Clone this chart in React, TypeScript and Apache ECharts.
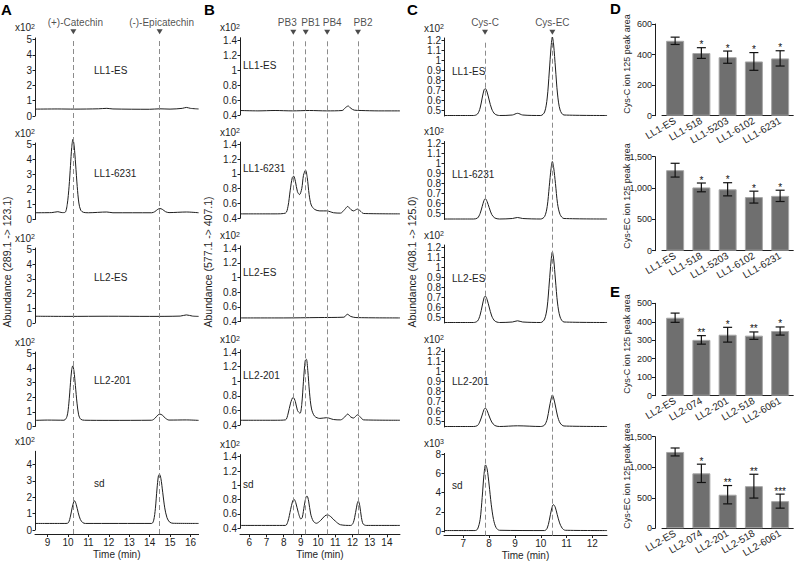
import React, { useEffect, useRef } from "react";
import * as echarts from "echarts";

const FONT = "'Liberation Sans', Arial, Helvetica, sans-serif";
const INK = "#1e1e1e";

// ---------------- Panel A : catechins, 289.1 -> 123.1 (x10^2) ----------------
const aTimeTicks = [9, 10, 11, 12, 13, 14, 15, 16];
const aRefTimes = [10.26, 14.49];
const aRefNames = ["(+)-Catechin", "(-)-Epicatechin"];
const aSampleNames = ["LL1-ES", "LL1-6231", "LL2-ES", "LL2-201", "sd"];
const aYTicks = [0, 1, 2, 3, 4, 5];
const aYTicksSd = [0, 1, 2, 3, 4];
const aLL1ES = [[8.38, 0.45], [9.5, 0.46], [10.3, 0.45], [11.5, 0.47], [11.9, 0.5], [12.2, 0.46], [14.0, 0.44], [14.5, 0.47], [15.0, 0.45], [15.6, 0.5], [15.8, 0.56], [16.0, 0.5], [16.4, 0.46]];
const aLL16231 = [[8.38, 0.45], [9.2, 0.46], [9.5, 0.52], [9.7, 0.46], [9.85, 0.47], [9.96, 1.0], [10.05, 2.2], [10.12, 3.6], [10.18, 4.8], [10.24, 5.35], [10.3, 4.9], [10.37, 3.7], [10.45, 2.2], [10.53, 1.1], [10.62, 0.62], [10.75, 0.48], [11.0, 0.45], [11.9, 0.5], [12.2, 0.45], [14.1, 0.45], [14.25, 0.52], [14.4, 0.68], [14.5, 0.73], [14.62, 0.68], [14.78, 0.52], [14.95, 0.46], [15.8, 0.5], [16.4, 0.45]];
const aLL2ES = [[8.38, 0.46], [10, 0.45], [12, 0.46], [14, 0.45], [15.5, 0.47], [15.8, 0.55], [16.1, 0.47], [16.4, 0.45]];
const aLL2201 = [[8.38, 0.42], [9.0, 0.44], [9.8, 0.43], [9.95, 0.7], [10.04, 1.6], [10.12, 3.0], [10.18, 3.9], [10.23, 4.15], [10.29, 3.8], [10.36, 2.8], [10.44, 1.6], [10.52, 0.8], [10.62, 0.5], [10.8, 0.43], [12, 0.42], [14.1, 0.43], [14.25, 0.55], [14.4, 0.78], [14.5, 0.85], [14.62, 0.78], [14.78, 0.56], [14.95, 0.44], [15.8, 0.45], [16.4, 0.42]];
const aSd = [[8.38, 0.4], [9.9, 0.4], [10.02, 0.45], [10.12, 0.85], [10.2, 1.35], [10.28, 1.72], [10.32, 1.78], [10.4, 1.55], [10.5, 1.05], [10.6, 0.65], [10.72, 0.45], [10.85, 0.4], [14.1, 0.4], [14.2, 0.6], [14.28, 1.3], [14.36, 2.5], [14.43, 3.3], [14.48, 3.4], [14.55, 3.15], [14.64, 2.3], [14.74, 1.35], [14.85, 0.75], [14.98, 0.48], [15.15, 0.41], [16.4, 0.4]];

// ---------------- Panel B : procyanidins, 577.1 -> 407.1 (x10^2) ----------------
const bTimeTicks = [6, 7, 8, 9, 10, 11, 12, 13, 14];
const bRefTimes = [8.56, 9.28, 10.53, 12.32];
const bRefNames = ["PB3", "PB1", "PB4", "PB2"];
const bSampleNames = ["LL1-ES", "LL1-6231", "LL2-ES", "LL2-201", "sd"];
const bYTicks = [0.4, 0.6, 0.8, 1, 1.2, 1.4];
const bLL1ES = [[5.46, 0.46], [6.5, 0.455], [7.5, 0.46], [8.5, 0.455], [9.5, 0.46], [10.5, 0.455], [11.4, 0.46], [11.6, 0.5], [11.75, 0.52], [11.9, 0.49], [12.1, 0.465], [12.5, 0.46], [13.5, 0.455], [14.76, 0.455]];
const bLL16231 = [[5.46, 0.46], [7.5, 0.46], [8.1, 0.47], [8.25, 0.56], [8.38, 0.78], [8.5, 0.95], [8.58, 0.97], [8.68, 0.9], [8.8, 0.76], [8.92, 0.72], [9.05, 0.8], [9.15, 0.98], [9.27, 1.05], [9.37, 0.95], [9.48, 0.72], [9.6, 0.58], [9.8, 0.52], [10.1, 0.5], [10.5, 0.5], [10.9, 0.475], [11.3, 0.47], [11.55, 0.52], [11.72, 0.56], [11.9, 0.52], [12.05, 0.5], [12.3, 0.525], [12.45, 0.5], [12.65, 0.465], [14.76, 0.46]];
const bLL2ES = [[5.46, 0.45], [8, 0.45], [10, 0.455], [11.5, 0.46], [11.7, 0.5], [11.9, 0.47], [12.2, 0.455], [14.76, 0.45]];
const bLL2201 = [[5.46, 0.465], [7.5, 0.465], [8.1, 0.47], [8.25, 0.55], [8.4, 0.7], [8.55, 0.78], [8.68, 0.72], [8.8, 0.6], [8.95, 0.56], [9.05, 0.68], [9.15, 1.0], [9.25, 1.28], [9.32, 1.3], [9.4, 1.15], [9.5, 0.85], [9.62, 0.62], [9.8, 0.52], [10.1, 0.49], [10.5, 0.5], [10.9, 0.475], [11.3, 0.47], [11.55, 0.51], [11.72, 0.55], [11.9, 0.51], [12.05, 0.495], [12.3, 0.54], [12.45, 0.51], [12.65, 0.47], [14.76, 0.465]];
const bSd = [[5.46, 0.44], [8.1, 0.44], [8.25, 0.5], [8.4, 0.66], [8.52, 0.78], [8.6, 0.805], [8.7, 0.76], [8.85, 0.62], [9.0, 0.53], [9.08, 0.55], [9.2, 0.72], [9.3, 0.84], [9.36, 0.85], [9.45, 0.78], [9.57, 0.6], [9.72, 0.5], [9.9, 0.47], [10.15, 0.51], [10.4, 0.575], [10.56, 0.586], [10.75, 0.56], [11.0, 0.5], [11.3, 0.45], [11.9, 0.44], [12.05, 0.48], [12.18, 0.62], [12.28, 0.75], [12.34, 0.78], [12.42, 0.72], [12.52, 0.55], [12.62, 0.46], [12.8, 0.44], [14.76, 0.44]];

// ---------------- Panel C : cysteinyl conjugates, 408.1 -> 125.0 ----------------
const cTimeTicks = [7, 8, 9, 10, 11, 12];
const cRefTimes = [7.84, 10.45];
const cRefNames = ["Cys-C", "Cys-EC"];
const cSampleNames = ["LL1-ES", "LL1-6231", "LL2-ES", "LL2-201", "sd"];
const cYTicks = [0.5, 0.6, 0.7, 0.8, 0.9, 1, 1.1, 1.2];
const cYTicksSd = [0, 2, 4, 6, 8];
const cLL1ES = [[6.25, 0.445], [7.4, 0.445], [7.55, 0.46], [7.65, 0.52], [7.73, 0.62], [7.8, 0.7], [7.85, 0.715], [7.92, 0.68], [8.0, 0.6], [8.1, 0.51], [8.22, 0.46], [8.4, 0.445], [8.9, 0.45], [9.1, 0.467], [9.3, 0.45], [10.0, 0.445], [10.15, 0.48], [10.25, 0.62], [10.33, 0.88], [10.4, 1.13], [10.45, 1.23], [10.5, 1.15], [10.57, 0.92], [10.65, 0.66], [10.75, 0.5], [10.9, 0.45], [12.57, 0.445]];
const cLL16231 = [[6.25, 0.445], [7.4, 0.445], [7.55, 0.455], [7.65, 0.5], [7.73, 0.57], [7.8, 0.63], [7.85, 0.65], [7.92, 0.62], [8.0, 0.56], [8.1, 0.49], [8.22, 0.455], [8.4, 0.445], [8.9, 0.45], [9.1, 0.46], [9.3, 0.45], [10.0, 0.445], [10.15, 0.47], [10.25, 0.57], [10.33, 0.77], [10.4, 0.95], [10.45, 1.02], [10.5, 0.96], [10.57, 0.8], [10.65, 0.6], [10.75, 0.49], [10.9, 0.45], [12.57, 0.445]];
const cLL2ES = [[6.25, 0.445], [7.4, 0.445], [7.55, 0.46], [7.65, 0.52], [7.73, 0.61], [7.8, 0.69], [7.85, 0.71], [7.92, 0.675], [8.0, 0.6], [8.1, 0.51], [8.22, 0.46], [8.4, 0.445], [8.9, 0.45], [9.1, 0.462], [9.3, 0.45], [10.0, 0.445], [10.15, 0.48], [10.25, 0.6], [10.33, 0.84], [10.4, 1.06], [10.45, 1.15], [10.5, 1.08], [10.57, 0.87], [10.65, 0.64], [10.75, 0.5], [10.9, 0.45], [12.57, 0.445]];
const cLL2201 = [[6.25, 0.445], [7.4, 0.445], [7.55, 0.455], [7.65, 0.5], [7.73, 0.56], [7.8, 0.615], [7.85, 0.63], [7.92, 0.605], [8.0, 0.55], [8.1, 0.49], [8.22, 0.455], [8.4, 0.445], [9.1, 0.452], [10.0, 0.445], [10.15, 0.46], [10.25, 0.52], [10.33, 0.63], [10.4, 0.72], [10.45, 0.76], [10.5, 0.73], [10.57, 0.65], [10.65, 0.55], [10.75, 0.48], [10.9, 0.45], [12.57, 0.445]];
const cSd = [[6.25, 0.05], [7.45, 0.05], [7.55, 0.2], [7.65, 1.2], [7.73, 3.5], [7.8, 5.9], [7.86, 6.9], [7.92, 6.5], [8.0, 4.8], [8.08, 2.8], [8.17, 1.2], [8.27, 0.35], [8.4, 0.08], [10.15, 0.05], [10.25, 0.3], [10.33, 1.1], [10.42, 2.3], [10.49, 2.76], [10.56, 2.5], [10.64, 1.7], [10.73, 0.85], [10.83, 0.3], [10.95, 0.08], [12.57, 0.05]];

// ---------------- Panels D / E : peak areas (mean, error) ----------------
const dCategories = ["LL1-ES", "LL1-518", "LL1-5203", "LL1-6102", "LL1-6231"];
const dCysC = [490, 410, 383, 355, 375];
const dCysCErr = [24, 35, 40, 58, 50];
const dCysCStars = ["", "*", "*", "*", "*"];
const dCysEC = [1285, 1010, 980, 855, 875];
const dCysECErr = [110, 70, 105, 95, 90];
const dCysECStars = ["", "*", "*", "*", "*"];
const eCategories = ["LL2-ES", "LL2-074", "LL2-201", "LL2-518", "LL2-6061"];
const eCysC = [422, 302, 330, 325, 350];
const eCysCErr = [25, 23, 40, 20, 22];
const eCysCStars = ["", "**", "*", "**", "*"];
const eCysEC = [1250, 900, 550, 690, 445];
const eCysECErr = [65, 150, 150, 195, 115];
const eCysECStars = ["", "*", "**", "**", "***"];

type Row = { data: number[][]; label: string; bottom: number; yMin: number; yMax: number; ppu: number; ticks: number[]; exp: number; labelY: number };
type Panel = {
  left: number; xMin: number; xMax: number; ppm: number; xTicks: number[]; xOffset: number;
  rows: Row[]; labelX: number; refTimes: number[]; refNames: string[]; refShift: number[];
  overlayTop: number; axisY: number; title: string; titleX: number; letter: string; letterX: number;
};

function buildOption() {
  const grids: any[] = [];
  const xAxes: any[] = [];
  const yAxes: any[] = [];
  const series: any[] = [];
  const graphics: any[] = [];
  const txt = (size: number) => ({ fontSize: size, color: INK, fontFamily: FONT });

  const addChromPanel = (p: Panel) => {
    const width = (p.xMax - p.xMin) * p.ppm;
    p.rows.forEach((row, i) => {
      const height = (row.yMax - row.yMin) * row.ppu;
      const last = i === p.rows.length - 1;
      const gi = grids.length;
      grids.push({ left: p.left, top: row.bottom - height, width, height });
      xAxes.push({
        gridIndex: gi, type: "value", min: p.xMin, max: p.xMax, show: last, offset: p.xOffset,
        axisLine: { show: true, onZero: false, lineStyle: { color: INK, width: 1 } },
        axisTick: { show: true, customValues: p.xTicks, length: 3, lineStyle: { color: INK } },
        axisLabel: { customValues: p.xTicks, margin: 3, ...txt(10) },
        splitLine: { show: false },
        name: last ? "Time (min)" : "", nameLocation: "middle", nameGap: 15, nameTextStyle: txt(10),
      });
      yAxes.push({
        gridIndex: gi, type: "value", min: row.yMin, max: row.yMax,
        axisLine: { show: true, onZero: false, lineStyle: { color: INK, width: 1 } },
        axisTick: { show: true, customValues: row.ticks, length: 2.5, lineStyle: { color: INK } },
        axisLabel: { customValues: row.ticks, margin: 3, ...txt(10) },
        splitLine: { show: false },
        name: `x10{s|${row.exp}}`, nameLocation: "end", nameGap: 5,
        nameTextStyle: { ...txt(10), align: "right", rich: { s: { fontSize: 7, verticalAlign: "top", color: INK, fontFamily: FONT } } },
      });
      series.push({
        type: "line", xAxisIndex: gi, yAxisIndex: gi, data: row.data, symbol: "none", smooth: 0.3,
        clip: false, silent: true, z: 3, lineStyle: { color: INK, width: 1 },
      });
      graphics.push({ type: "text", x: p.labelX, y: row.labelY, style: { text: row.label, fontSize: 10, fontFamily: FONT, fill: INK, align: "left", verticalAlign: "middle" } });
    });
    const oi = grids.length;
    grids.push({ left: p.left, top: p.overlayTop, width, height: p.axisY - p.overlayTop });
    xAxes.push({ gridIndex: oi, type: "value", min: p.xMin, max: p.xMax, show: false });
    yAxes.push({ gridIndex: oi, type: "value", min: 0, max: 1, show: false });
    series.push({
      type: "scatter", xAxisIndex: oi, yAxisIndex: oi, symbol: "triangle", symbolRotate: 180, symbolSize: [6, 5],
      itemStyle: { color: INK }, silent: true, z: 2,
      data: p.refTimes.map((t, k) => ({ value: [t, 1], name: p.refNames[k], label: { offset: [p.refShift[k], 0] } })),
      label: { show: true, position: "top", distance: 2, formatter: "{b}", ...txt(10) },
      markLine: {
        silent: true, symbol: ["none", "none"], label: { show: false },
        lineStyle: { color: "#8c8c8c", type: [5, 3], width: 1 },
        data: p.refTimes.map((t) => [{ coord: [t, 0] }, { coord: [t, 0.985] }]),
      },
    });
    graphics.push({ type: "text", x: p.titleX, y: 262, rotation: Math.PI / 2, style: { text: p.title, fontSize: 10.5, fontFamily: FONT, fill: INK, align: "center", verticalAlign: "middle" } });
    graphics.push({ type: "text", x: p.letterX, y: 9, style: { text: p.letter, fontSize: 15, fontWeight: "bold", fontFamily: FONT, fill: "#000", align: "left", verticalAlign: "middle" } });
  };

  const aData = [aLL1ES, aLL16231, aLL2ES, aLL2201, aSd];
  const aBottoms = [116, 219.5, 323, 426.5, 530];
  const aPpu = [15.3, 15.0, 14.7, 14.6, 16.4];
  const aLabelY = [70, 173, 277, 380, 483];
  addChromPanel({
    left: 35, xMin: 8.38, xMax: 16.4, ppm: 20.4, xTicks: aTimeTicks, xOffset: 4,
    rows: aData.map((d, i) => ({
      data: d, label: aSampleNames[i], bottom: aBottoms[i], yMin: 0, yMax: i === 4 ? 4.8 : 5.1,
      ppu: aPpu[i], ticks: i === 4 ? aYTicksSd : aYTicks, exp: 2, labelY: aLabelY[i],
    })),
    labelX: 94, refTimes: aRefTimes, refNames: aRefNames, refShift: [2, 2],
    overlayTop: 31.7, axisY: 534, title: "Abundance (289.1 -> 123.1)", titleX: 7, letter: "A", letterX: 1,
  });

  const bData = [bLL1ES, bLL16231, bLL2ES, bLL2201, bSd];
  const bBottoms = [115, 218.3, 321.6, 425, 528.3];
  const bPpu = [75, 74, 73.5, 73, 71.6];
  const bLabelY = [65, 168.5, 272, 375.5, 484];
  addChromPanel({
    left: 240, xMin: 5.46, xMax: 14.76, ppm: 17.2, xTicks: bTimeTicks, xOffset: 6,
    rows: bData.map((d, i) => ({
      data: d, label: bSampleNames[i], bottom: bBottoms[i], yMin: 0.4, yMax: 1.43,
      ppu: bPpu[i], ticks: bYTicks, exp: 2, labelY: bLabelY[i],
    })),
    labelX: 243, refTimes: bRefTimes, refNames: bRefNames, refShift: [-6, 5, 5, 5],
    overlayTop: 32.3, axisY: 534.3, title: "Abundance (577.1 -> 407.1)", titleX: 208, letter: "B", letterX: 204,
  });

  const cData = [cLL1ES, cLL16231, cLL2ES, cLL2201, cSd];
  const cBottoms = [116, 219.5, 323, 427, 532.7];
  const cLabelY = [71, 174.5, 278, 381.5, 485];
  addChromPanel({
    left: 444, xMin: 6.25, xMax: 12.57, ppm: 25.8, xTicks: cTimeTicks, xOffset: 3,
    rows: cData.map((d, i) => ({
      data: d, label: cSampleNames[i], bottom: cBottoms[i],
      yMin: i === 4 ? -0.1 : 0.44, yMax: i === 4 ? 8.1 : 1.22, ppu: i === 4 ? 9.67 : 100,
      ticks: i === 4 ? cYTicksSd : cYTicks, exp: i === 4 ? 3 : 2, labelY: cLabelY[i],
    })),
    labelX: 452, refTimes: cRefTimes, refNames: cRefNames, refShift: [0, 0],
    overlayTop: 32.3, axisY: 535.7, title: "Abundance (408.1 -> 125.0)", titleX: 412, letter: "C", letterX: 407,
  });

  const addBars = (cats: string[], vals: number[], errs: number[], stars: string[], top: number, height: number,
    yMax: number, interval: number, yName: string, nameX: number, nameY: number) => {
    const gi = grids.length;
    grids.push({ left: 662, top, width: 131.25, height });
    xAxes.push({
      gridIndex: gi, type: "category", data: cats,
      axisLine: { show: true, lineStyle: { color: INK, width: 1 } }, axisTick: { show: false },
      axisLabel: { interval: 0, rotate: 30, margin: 4, ...txt(10) }, splitLine: { show: false },
    });
    yAxes.push({
      gridIndex: gi, type: "value", min: 0, max: yMax, interval, offset: 7,
      axisLine: { show: true, lineStyle: { color: INK, width: 1 } },
      axisTick: { show: true, length: 3, lineStyle: { color: INK } },
      axisLabel: { margin: 3, ...txt(9) }, splitLine: { show: false },
    });
    series.push({
      type: "bar", xAxisIndex: gi, yAxisIndex: gi, data: vals, barWidth: 18, silent: true,
      itemStyle: { color: "#6f6f6f", borderColor: "#a6a6a6", borderWidth: 1 },
    });
    series.push({
      type: "custom", xAxisIndex: gi, yAxisIndex: gi, silent: true, z: 5,
      data: vals.map((v, k) => [k, v, errs[k]]), encode: { x: 0, y: 1 },
      renderItem: (params: any, api: any) => {
        const x = api.value(0), m = api.value(1), e = api.value(2);
        const hi = api.coord([x, m + e]);
        const lo = api.coord([x, m - e]);
        const hw = 4.5;
        const st = { stroke: "#111", lineWidth: 1.2 };
        return {
          type: "group", children: [
            { type: "line", shape: { x1: hi[0], y1: hi[1], x2: lo[0], y2: lo[1] }, style: st },
            { type: "line", shape: { x1: hi[0] - hw, y1: hi[1], x2: hi[0] + hw, y2: hi[1] }, style: st },
            { type: "line", shape: { x1: lo[0] - hw, y1: lo[1], x2: lo[0] + hw, y2: lo[1] }, style: st },
            { type: "text", style: { text: stars[params.dataIndex], x: hi[0], y: hi[1] - 3, align: "center", verticalAlign: "middle", fontSize: 10, fontFamily: FONT, fill: "#111" } },
          ],
        };
      },
    });
    graphics.push({ type: "text", x: nameX, y: nameY, rotation: Math.PI / 2, style: { text: yName, fontSize: 9, fontFamily: FONT, fill: INK, align: "center", verticalAlign: "middle" } });
  };

  addBars(dCategories, dCysC, dCysCErr, dCysCStars, 24, 91.7, 600, 200, "Cys-C ion 125 peak area", 627, 64);
  addBars(dCategories, dCysEC, dCysECErr, dCysECStars, 156.7, 94, 1500, 500, "Cys-EC ion 125 peak area", 627, 196);
  addBars(eCategories, eCysC, eCysCErr, eCysCStars, 303.3, 92.4, 500, 100, "Cys-C ion 125 peak area", 627, 344);
  addBars(eCategories, eCysEC, eCysECErr, eCysECStars, 436.7, 91.6, 1500, 500, "Cys-EC ion 125 peak area", 627, 476);
  graphics.push({ type: "text", x: 610, y: 8, style: { text: "D", fontSize: 15, fontWeight: "bold", fontFamily: FONT, fill: "#000", align: "left", verticalAlign: "middle" } });
  graphics.push({ type: "text", x: 610, y: 291, style: { text: "E", fontSize: 15, fontWeight: "bold", fontFamily: FONT, fill: "#000", align: "left", verticalAlign: "middle" } });

  return {
    animation: false,
    backgroundColor: "#ffffff",
    textStyle: { fontFamily: FONT },
    grid: grids,
    xAxis: xAxes,
    yAxis: yAxes,
    series,
    graphic: graphics,
  };
}

export default function App() {
  const ref = useRef<HTMLDivElement>(null);
  useEffect(() => {
    if (!ref.current) return;
    const chart = echarts.init(ref.current, null, { renderer: "svg" });
    chart.setOption(buildOption() as any);
    return () => chart.dispose();
  }, []);
  return <div ref={ref} style={{ position: "absolute", left: 0, top: 0, width: 799, height: 561 }} />;
}
